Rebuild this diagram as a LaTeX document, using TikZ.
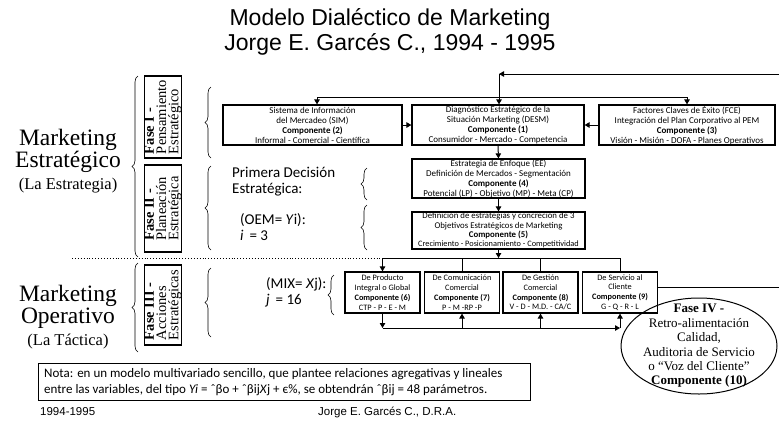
\documentclass[tikz,border=0pt]{standalone}
\usepackage{fontspec}
\setmainfont{Carlito}
\newfontfamily\ari{Liberation Sans}
\newfontfamily\tnr{Liberation Serif}
\usetikzlibrary{arrows.meta,shapes.geometric,decorations.pathreplacing}
\tikzset{
 comp/.style={draw, line width=1.2pt, align=center, inner sep=0pt, font=\fontsize{9}{10}\selectfont},
 small/.style={draw, line width=1.2pt, align=center, inner sep=0pt, minimum width=75, minimum height=41, font=\fontsize{8.3}{9.8}\selectfont},
 fase/.style={draw, line width=1.3pt, rotate=90, align=left, inner sep=0pt, font=\tnr\fontsize{14.5}{12.3}\selectfont},
 conn/.style={line width=1pt},
 arr/.style={line width=1pt, -{Triangle[length=5pt,width=5.5pt]}},
 br/.style={decorate, decoration={brace, amplitude=6pt}, line width=0.6pt},
 mk/.style={align=center, inner sep=0pt, font=\tnr\fontsize{23.5}{22}\selectfont},
 mid/.style={align=left, anchor=west, font=\fontsize{15}{16.5}\selectfont, inner sep=0pt},
}
\begin{document}
\begin{tikzpicture}[x=1pt,y=-1pt]
\useasboundingbox (0,0) rectangle (779,421);
% title
\node[font=\ari\fontsize{23}{25}\selectfont, align=center, inner sep=0pt] (t1) at (390,31.5) {Modelo Dialéctico de Marketing\\Jorge E. Garcés C., 1994 - 1995};
% left labels
\node[mk] (me) at (68,161) {Marketing\\Estratégico\\{\fontsize{16.5}{20}\selectfont (La Estrategia)}};
\node[mk] (mo) at (68,317) {Marketing\\Operativo\\{\fontsize{16.5}{20}\selectfont (La Táctica)}};
% big braces
\coordinate (b1a) at (138,257); \coordinate (b1b) at (138,76);
\coordinate (b2a) at (138,352); \coordinate (b2b) at (138,263);
\draw[br] (b1a) -- (b1b);
\draw[br] (b2a) -- (b2b);
% fase boxes
\node[fase, minimum width=82, minimum height=36] (f1) at (163,117) {\textbf{Fase I -}\\Pensamiento\\Estratégico};
\node[fase, minimum width=87, minimum height=36] (f2) at (163,208.5) {\textbf{Fase II -}\\Planeación\\Estratégica};
\node[fase, minimum width=80, minimum height=36] (f3) at (163,305) {\textbf{Fase III -}\\Acciones\\Estratégicas};
% inner braces
\coordinate (i1a) at (211,158); \coordinate (i1b) at (211,87);
\coordinate (i2a) at (211,250); \coordinate (i2b) at (211,166);
\coordinate (i3a) at (211,337); \coordinate (i3b) at (211,268);
\draw[br] (i1a) -- (i1b);
\draw[br] (i2a) -- (i2b);
\draw[br] (i3a) -- (i3b);
% middle texts and braces
\node[mid] (pd) at (232,181.5) {Primera Decisión\\Estratégica:};
\node[mid] (oem) at (240,227) {(OEM= \textit{Y}i):\\\textit{i}\, = 3};
\node[mid] (mix) at (266,292.5) {(MIX= \textit{X}j):\\\textit{j}\, = 16};
\coordinate (c1a) at (367,200); \coordinate (c1b) at (367,168);
\coordinate (c2a) at (367,250); \coordinate (c2b) at (367,205);
\coordinate (c3a) at (334,315); \coordinate (c3b) at (334,275);
\draw[br] (c1a) -- (c1b);
\draw[br] (c2a) -- (c2b);
\draw[br] (c3a) -- (c3b);
% component boxes
\node[comp, minimum width=179, minimum height=40] (sim) at (312.5,125) {Sistema de Información\\del Mercadeo (SIM)\\\textbf{Componente (2)}\\Informal - Comercial - Científica};
\node[comp, minimum width=172, minimum height=40] (desm) at (498,125) {Diagnóstico Estratégico de la\\Situación Marketing (DESM)\\\textbf{Componente (1)}\\Consumidor - Mercado - Competencia};
\node[comp, minimum width=176, minimum height=40] (fce) at (687,125) {Factores Claves de Éxito (FCE)\\Integración del Plan Corporativo al PEM\\\textbf{Componente (3)}\\Visión - Misión - DOFA - Planes Operativos};
\node[comp, minimum width=173, minimum height=39] (ee) at (498.5,178.5) {Estrategia de Enfoque (EE)\\Definición de Mercados - Segmentación\\\textbf{Componente (4)}\\Potencial (LP) - Objetivo (MP) - Meta (CP)};
\node[comp, minimum width=173, minimum height=37, font=\fontsize{8.8}{9.4}\selectfont] (def) at (498.5,230.5) {Definición de estrategias y concreción de 3\\Objetivos Estratégicos de Marketing\\\textbf{Componente (5)}\\{\fontsize{8.3}{9}\selectfont Crecimiento - Posicionamiento - Competitividad}};
% fase III boxes
\node[small] (prod) at (382.5,292.5) {De Producto\\Integral o Global\\\textbf{Componente (6)}\\CTP - P - E - M};
\node[small] (com) at (462,292.5) {De Comunicación\\Comercial\\\textbf{Componente (7)}\\P - M -RP -P};
\node[small] (ges) at (540.5,292.5) {De Gestión\\Comercial\\\textbf{Componente (8)}\\V - D - M.D. - CA/C};
\node[small] (ser) at (620,292.5) {De Servicio al\\Cliente\\\textbf{Componente (9)}\\G - Q - R - L};
% top connectors
\coordinate (tr) at (779,74); \coordinate (tc) at (499,74);
\draw[arr] (tr) -- (tc);
\draw[arr] (tc) -- (desm.north -| tc);
\coordinate (hl) at (317,97); \coordinate (hr) at (687,97);
\draw[conn] (hl) -- (hr);
\draw[arr] (hl) -- (sim.north -| hl);
\draw[arr] (hr) -- (fce.north -| hr);
\draw[arr] (sim.east) -- (desm.west);
\draw[arr] (fce.west) -- (desm.east);
\draw[arr] (desm.south) -- (ee.north);
\draw[arr] (ee.south) -- (def.north);
% bus to fase III
\coordinate (bt) at (0,258);
\coordinate (dl) at (72,258);
\draw[dotted, line width=0.9pt] (dl) -- (prod.north |- bt);
\draw[arr] (def.south) -- (def.south |- bt);
\draw[conn] (prod.north |- bt) -- (ser.north |- bt);
\draw[arr] (prod.north |- bt) -- (prod.north);
\draw[conn] (com.north |- bt) -- (com.north);
\draw[conn] (ges.north |- bt) -- (ges.north);
\draw[conn] (ser.north |- bt) -- (ser.north);
% bottom bus
\coordinate (bb) at (0,328);
\draw[arr] (prod.south) -- (prod.south |- bb);
\draw[arr] (prod.south |- bb) -- (ser.south |- bb);
\draw[arr] (com.south |- bb) -- (com.south);
\draw[arr] (ges.south |- bb) -- (ges.south);
\draw[arr] (ser.south |- bb) -- (ser.south);
% feedback line to the right
\coordinate (re) at (779,287);
\draw[conn] (ser.east |- re) -- (re);
% fase IV ellipse
\node[ellipse, draw, line width=1pt, minimum width=156, minimum height=96, inner sep=0pt] (f4) at (699,346) {};
\node[align=center, inner sep=0pt, font=\tnr\fontsize{13}{14.4}\selectfont] (f4t) at (f4.center) {\textbf{Fase IV -}\\Retro-alimentación\\Calidad,\\Auditoria de Servicio\\o “Voz del Cliente”\\\textbf{Componente (10)}};
% nota
\node[draw, line width=1pt, minimum width=492, minimum height=37, anchor=west, inner sep=0pt] (nota) at (38,382) {};
\node[align=left, anchor=west, inner sep=0pt, font=\fontsize{13}{16.5}\selectfont] (notat) at (44,382) {Nota: en un modelo multivariado sencillo, que plantee relaciones agregativas y lineales\\entre las variables, del tipo \textit{Yi} = ˆβo + ˆβij\textit{X}j + є\%, se obtendrán ˆβij = 48 parámetros.};
% footer
\node[anchor=base west, inner sep=0pt, font=\ari\fontsize{11.5}{11.5}\selectfont] (fy) at (40,415) {1994-1995};
\node[anchor=base west, inner sep=0pt, font=\ari\fontsize{11.5}{11.5}\selectfont] (fa) at (318,415) {Jorge E. Garcés C., D.R.A.};
\end{tikzpicture}
\end{document}
